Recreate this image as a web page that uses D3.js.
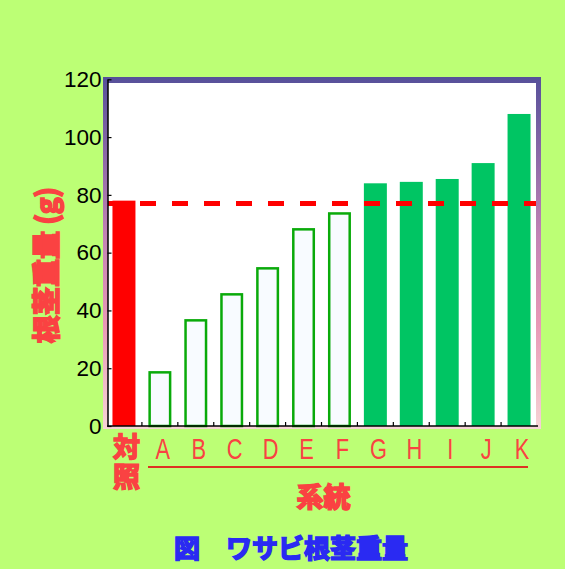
<!DOCTYPE html>
<html>
<head>
<meta charset="utf-8">
<script src="https://cdn.jsdelivr.net/npm/d3@7"></script>
<style>
  body { margin: 0; background: #bcff75; }
  svg { display: block; }
</style>
</head>
<body>
<script>
// data
var categories = ['対照', 'A', 'B', 'C', 'D', 'E', 'F', 'G', 'H', 'I', 'J', 'K'];
var weights = [78, 19, 37, 46, 55, 68.5, 74, 84, 84.5, 85.5, 91, 108];
var groups = ['control', 'low', 'low', 'low', 'low', 'low', 'low', 'high', 'high', 'high', 'high', 'high'];
var yTicks = [0, 20, 40, 60, 80, 100, 120];
var controlLine = 77;

var width = 565, height = 569;
var red = '#fa4242';

var svg = d3.select('body').append('svg')
    .attr('width', width)
    .attr('height', height);

var x = d3.scaleBand()
    .domain(categories)
    .range([106, 537])
    .paddingInner(0.36)
    .paddingOuter(0.18);

var y = d3.scaleLinear()
    .domain([0, 120])
    .range([426, 79.3]);

// frame with gradient border
var grad = svg.append('defs').append('linearGradient')
    .attr('id', 'frame')
    .attr('x1', 0).attr('y1', 0).attr('x2', 0).attr('y2', 1);
grad.append('stop').attr('offset', '0%').attr('stop-color', '#56509a');
grad.append('stop').attr('offset', '45%').attr('stop-color', '#c283b5');
grad.append('stop').attr('offset', '70%').attr('stop-color', '#e898b6');
grad.append('stop').attr('offset', '100%').attr('stop-color', '#f6d4d6');

svg.append('rect')
    .attr('x', 103).attr('y', 77)
    .attr('width', 438).attr('height', 352)
    .attr('fill', 'url(#frame)');
svg.append('rect')
    .attr('x', 108).attr('y', 83)
    .attr('width', 428).attr('height', 343)
    .attr('fill', '#ffffff');

// bars
var bars = svg.append('g').selectAll('rect')
    .data(weights)
    .enter()
    .append('rect')
    .attr('x', (d, i) => groups[i] === 'low' ? x(categories[i]) + 1.25 : x(categories[i]))
    .attr('width', (d, i) => groups[i] === 'low' ? x.bandwidth() - 2.5 : x.bandwidth())
    .attr('y', (d, i) => groups[i] === 'low' ? y(d) + 1.25 : y(d))
    .attr('height', (d, i) => groups[i] === 'low' ? y(0) - y(d) - 1.25 : y(0) - y(d))
    .attr('fill', (d, i) => groups[i] === 'control' ? '#ff0000' : groups[i] === 'high' ? '#00c563' : '#f8fbff')
    .attr('stroke', (d, i) => groups[i] === 'low' ? '#0aaa0a' : 'none')
    .attr('stroke-width', 2.5);

// control reference line
svg.append('line')
    .attr('x1', 108).attr('x2', 536)
    .attr('y1', y(controlLine)).attr('y2', y(controlLine))
    .attr('stroke', '#ff0000')
    .attr('stroke-width', 5)
    .attr('stroke-dasharray', '16,16');

// y axis
var yAxis = svg.append('g')
    .attr('transform', 'translate(107.5,0)')
    .call(d3.axisLeft(y).tickValues(yTicks).tickSize(-4).tickSizeOuter(0).tickPadding(6));
yAxis.select('.domain').attr('stroke', '#000').attr('stroke-width', 1.5);
yAxis.selectAll('.tick line').attr('stroke', '#000').attr('stroke-width', 1.2);
yAxis.selectAll('text')
    .attr('fill', '#000')
    .style('font-family', '"Liberation Sans", Arial, sans-serif')
    .style('font-size', '22.5px');

// x axis line and ticks
svg.append('line')
    .attr('x1', 107).attr('x2', 538)
    .attr('y1', 426).attr('y2', 426)
    .attr('stroke', '#000').attr('stroke-width', 1.5);
svg.append('g').selectAll('line')
    .data(categories.slice(1))
    .enter()
    .append('line')
    .attr('x1', d => x(d) - x.step() * x.paddingInner() / 2)
    .attr('x2', d => x(d) - x.step() * x.paddingInner() / 2)
    .attr('y1', 426).attr('y2', 422)
    .attr('stroke', '#000').attr('stroke-width', 1.2);

// x labels
svg.append('g').selectAll('text')
    .data(categories.slice(1))
    .enter()
    .append('text')
    .attr('transform', d => 'translate(' + (x(d) + x.bandwidth() / 2 + 3) + ',459) scale(0.74,1)')
    .attr('text-anchor', 'middle')
    .attr('fill', red)
    .style('font-family', '"Liberation Sans", Arial, sans-serif')
    .style('font-size', '29.5px')
    .text(d => d);

// vertical 対照
svg.append('text')
    .attr('x', x(categories[0]) + x.bandwidth() / 2 + 2.5)
    .attr('y', 433)
    .attr('fill', red).attr('stroke', red).attr('stroke-width', 1.6)
    .style('font-family', '"Noto Sans CJK JP", sans-serif')
    .style('font-weight', 'bold')
    .style('font-size', '27px')
    .style('writing-mode', 'vertical-rl')
    .style('letter-spacing', '3px')
    .text(categories[0]);

// underline under systems
svg.append('line')
    .attr('x1', 148).attr('x2', 528)
    .attr('y1', 467).attr('y2', 467)
    .attr('stroke', '#dd3322').attr('stroke-width', 2);

svg.append('text')
    .attr('x', 323.5).attr('y', 507)
    .attr('text-anchor', 'middle')
    .attr('fill', red).attr('stroke', red).attr('stroke-width', 1.6)
    .style('font-family', '"Noto Sans CJK JP", sans-serif')
    .style('font-weight', 'bold')
    .style('font-size', '27px')
    .text('系統');

// y label
svg.append('text')
    .attr('transform', 'translate(57,265) rotate(-90)')
    .attr('text-anchor', 'middle')
    .attr('fill', red).attr('stroke', red).attr('stroke-width', 1.8)
    .style('font-family', '"Noto Sans CJK JP", sans-serif')
    .style('font-weight', 'bold')
    .style('font-size', '28px')
    .text('根茎重量 (g)');

// title
svg.append('text')
    .attr('x', 291).attr('y', 558)
    .attr('text-anchor', 'middle')
    .attr('fill', '#2a2af2').attr('stroke', '#2a2af2').attr('stroke-width', 1.6)
    .style('font-family', '"Noto Sans CJK JP", sans-serif')
    .style('font-weight', 'bold')
    .style('font-size', '26px')
    .text('図　ワサビ根茎重量');
</script>
</body>
</html>
